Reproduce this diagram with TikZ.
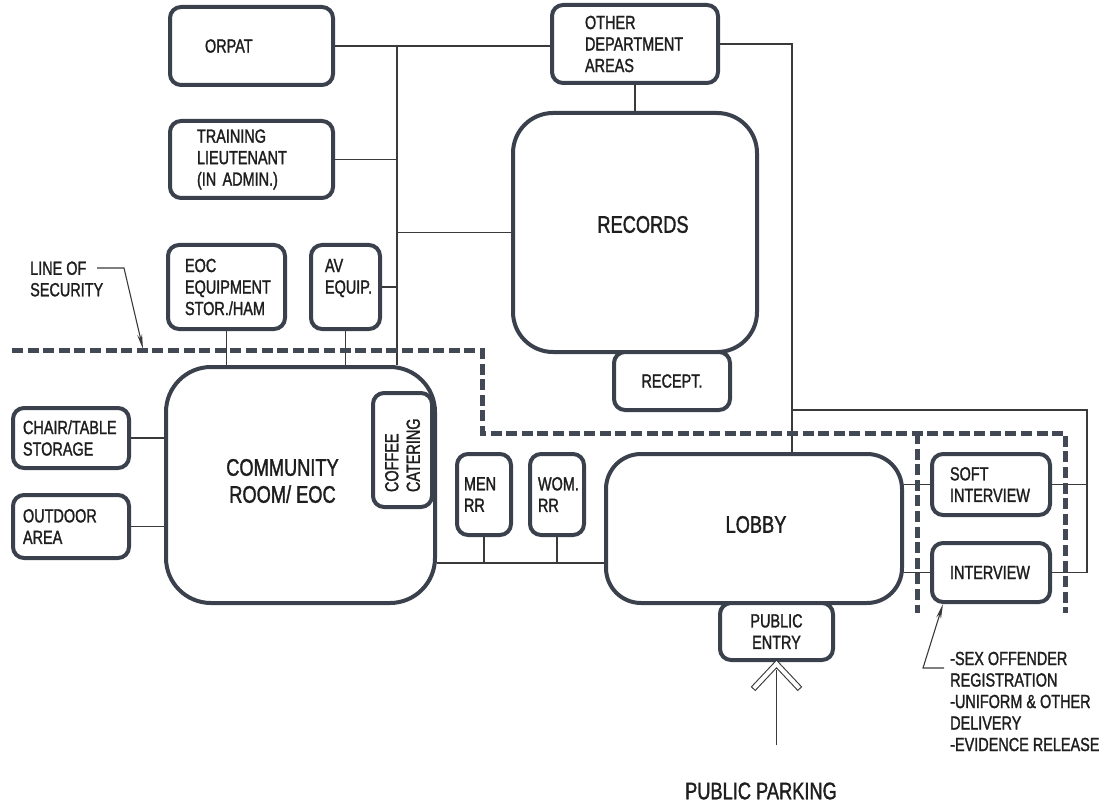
\documentclass[tikz,border=0pt]{standalone}
\usepackage{fontspec}
\setmainfont{Liberation Sans}[FakeStretch=0.76, FakeBold=1.4]
\usetikzlibrary{arrows.meta}
\definecolor{boxc}{HTML}{3A404C}
\definecolor{linec}{HTML}{3A3A3A}
\definecolor{textc}{HTML}{1E1E1E}
\definecolor{secc}{HTML}{424854}
\newcommand\lbl{\fontsize{19}{21.5}\selectfont\hyphenpenalty=10000\relax}
\newcommand\bigtxt{\fontsize{24}{27}\selectfont}
\begin{document}
\begin{tikzpicture}[x=1pt,y=-1pt,
  box/.style={draw=boxc, line width=4pt, rounded corners=11pt, fill=white,
    inner sep=0pt, font=\lbl, text=textc, align=left},
  bigbox/.style={box, rounded corners=40pt},
  ctr/.style={align=center},
  wire/.style={draw=linec, line width=1.1pt},
  secline/.style={draw=secc, line width=5pt, dash pattern=on 11pt off 4.6pt},
  note/.style={font=\lbl, text=textc, align=left, inner sep=0pt},
  tip/.style={-{Stealth[length=15pt,width=5pt]}}]
\useasboundingbox (0,0) rectangle (1103,805);

% rooms
\node[box, minimum width=163pt, minimum height=78pt, text width=93pt] (orpat) at (251.5,46) {ORPAT};
\node[box, minimum width=163pt, minimum height=77pt, text width=109pt] (training) at (251.5,159.5) {TRAINING\\LIEUTENANT\\(IN ADMIN.)};
\node[box, minimum width=166pt, minimum height=78pt, text width=100pt] (other) at (635,44) {OTHER\\DEPARTMENT\\AREAS};
\node[bigbox, minimum width=244pt, minimum height=239pt,
  label={[font=\bigtxt, text=textc, xshift=8pt, yshift=8pt]center:RECORDS}] (records) at (635,232.5) {};
\node[box, ctr, minimum width=116pt, minimum height=58pt] (recept) at (672,381) {RECEPT.};
\node[box, minimum width=117pt, minimum height=84pt, text width=83pt] (eoc) at (226.5,287) {EOC\\EQUIPMENT\\STOR./HAM};
\node[box, minimum width=69pt, minimum height=84pt, text width=41pt] (av) at (345.5,287) {AV\\EQUIP.\\\mbox{}};
\node[box, minimum width=116pt, minimum height=60pt, text width=96pt] (chair) at (71,438) {CHAIR/TABLE\\STORAGE};
\node[box, minimum width=116pt, minimum height=63pt, text width=96pt] (outdoor) at (71,526.5) {OUTDOOR\\AREA};
\node[bigbox, rounded corners=45pt, minimum width=269pt, minimum height=236pt,
  label={[font=\bigtxt, text=textc, align=center, xshift=-18pt, yshift=4pt]center:COMMUNITY\\ROOM/ EOC}] (community) at (300.5,485) {};
\node[box, rotate=90, minimum width=114pt, minimum height=59pt, text width=84pt] (coffee) at (402.5,450) {COFFEE\\CATERING};
\node[box, minimum width=54pt, minimum height=81pt, text width=40pt] (men) at (484,494.5) {MEN\\RR};
\node[box, minimum width=54pt, minimum height=81pt, text width=38pt] (wom) at (557,494.5) {WOM.\\RR};
\node[bigbox, rounded corners=35pt, minimum width=296pt, minimum height=149pt,
  label={[font=\bigtxt, text=textc, xshift=2pt, yshift=4pt]center:LOBBY}] (lobby) at (754,528.5) {};
\node[box, ctr, minimum width=113pt, minimum height=57pt] (entry) at (776.5,631.5) {PUBLIC\\ENTRY};
\node[box, minimum width=118pt, minimum height=61pt, text width=82pt] (soft) at (991,484.5) {SOFT\\INTERVIEW};
\node[box, minimum width=118pt, minimum height=59pt, text width=82pt] (interview) at (991,572.5) {INTERVIEW};

% junction points of the corridors
\coordinate (spine) at (397,46);
\coordinate (east) at (792,44);
\coordinate (rear) at (1087,410);
\coordinate (hall) at (484,563);

% corridors
\draw[wire] (orpat.east) -- (orpat.east -| other.west);
\draw[wire] (spine) -- (spine |- community.north);
\draw[wire] (training.east) -- (training.east -| spine);
\draw[wire] (av.east) -- (av.east -| spine);
\draw[wire] (spine |- records.west) -- (records.west);
\draw[wire] (eoc.south) -- (eoc.south |- community.north);
\draw[wire] (av.south) -- (av.south |- community.north);
\draw[wire] (chair.east) -- (chair.east -| community.west);
\draw[wire] (outdoor.east) -- (outdoor.east -| community.west);
\draw[wire] (other.south) -- (other.south |- records.north);
\draw[wire] (other.east) -- (east) -- (east |- lobby.north);
\draw[wire] (east |- rear) -- (rear) -- (rear |- interview.east);
\draw[wire] (soft.east) -- (soft.east -| rear);
\draw[wire] (interview.east) -- (interview.east -| rear);
\draw[wire] (soft.west -| lobby.east) -- (soft.west);
\draw[wire] (interview.west -| lobby.east) -- (interview.west);
\draw[wire] (community.east |- hall) -- (lobby.west |- hall);
\draw[wire] (men.south) -- (men.south |- hall);
\draw[wire] (wom.south) -- (wom.south |- hall);

% line of security
\draw[secline] (12,350) -- (482,350) -- (482,433) -- (1065,433) -- (1065,613);
\draw[secline] (917,433) -- (917,613);
\node[note, anchor=west] (los) at (30,279) {LINE OF\\SECURITY};
\coordinate (losa) at (97,268);
\coordinate (losb) at (124,268);
\coordinate (losc) at (143,349);
\draw[wire, tip] (losa) -- (losb) -- (losc);

% interview note
\node[note, anchor=west] (notes) at (950,701.5) {-SEX OFFENDER\\REGISTRATION\\-UNIFORM \& OTHER\\DELIVERY\\-EVIDENCE RELEASE};
\coordinate (nta) at (944,668);
\coordinate (ntb) at (923,668);
\draw[wire, tip] (nta) -- (ntb) -- ([xshift=13pt]interview.south west);

% public approach: outlined chevron over the walkway
\node[font=\bigtxt, text=textc, inner sep=0pt] (parking) at (761,791) {PUBLIC PARKING};
\draw[draw=linec, line width=6.2pt, miter limit=10] (753,689) -- (776.5,664) -- (800,689);
\draw[draw=white, line width=4pt, miter limit=10, shorten <=1.1pt, shorten >=1.1pt]
  (753,689) -- (776.5,664) -- (800,689);
\coordinate (park) at (776.5,745);
\draw[wire] (park) -- ([yshift=-8pt]entry.south);
\end{tikzpicture}
\end{document}
